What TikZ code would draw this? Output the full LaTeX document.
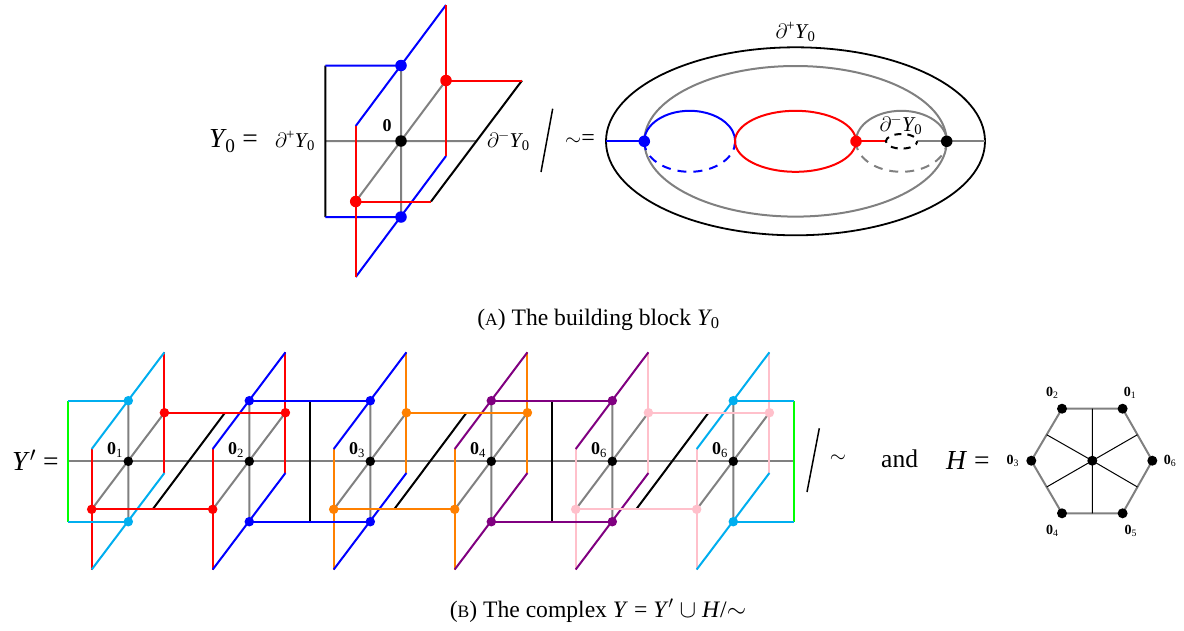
\documentclass[tikz,border=0pt]{standalone}
\usepackage{fontspec}
\usetikzlibrary{calc}
\setmainfont{Liberation Serif}
\newcommand{\fsz}[1]{\fontsize{#1}{#1}\selectfont}
\newcommand{\YzT}{\textit{Y}\kern-0.06em\textsubscript{0}}
\newcommand{\bzr}[1]{\textbf{0}\textsubscript{#1}}
\definecolor{mycyan}{RGB}{0,174,239}
\definecolor{myorange}{RGB}{255,128,0}
\definecolor{mypurple}{RGB}{128,0,128}
\definecolor{mypink}{RGB}{255,192,203}
\definecolor{mygreen}{RGB}{0,255,0}
\tikzset{
  edgeline/.style={line width=2pt,line join=miter,line cap=butt},
  thinblack/.style={line width=1pt,black},
  dotbig/.style={circle,fill=#1,inner sep=0pt,minimum size=11.5pt},
  dotsmall/.style={circle,fill=#1,inner sep=0pt,minimum size=9.5pt},
  dothex/.style={circle,fill=#1,inner sep=0pt,minimum size=10pt},
  lab/.style={inner sep=0pt,text=black},
}
\begin{document}
\begin{tikzpicture}[x=1pt,y=-1pt]
\useasboundingbox (0,0) rectangle (1184,630);
% ---------- Part A, left
\coordinate (ac) at (401,141);
\coordinate (aul) at (325.3,65.5); \coordinate (all) at (325.3,217);
\coordinate (aml) at (325.3,141); \coordinate (amr) at (477,141);
\coordinate (abt) at (401,65.5); \coordinate (abb) at (401,217);
\coordinate (art) at (446,80.5); \coordinate (arb) at (355.7,201.5);
\coordinate (artr) at (522,80.5); \coordinate (arbr) at (431,201.5);
\coordinate (ap1) at (446,5); \coordinate (ap2) at (355.7,126);
\coordinate (ap3) at (446,156); \coordinate (ap4) at (355.7,277);
\draw[edgeline,gray] (aml)--(amr) (abt)--(abb) (art)--(arb);
\draw[edgeline,black] (aul)--(all) (artr)--(arbr);
\draw[edgeline,blue] (aul)--(abt) (all)--(abb) (ap1)--(ap2) (ap3)--(ap4);
\draw[edgeline,red] (ap1)--(ap3) (ap2)--(ap4) (art)--(artr) (arb)--(arbr);
\node[dotbig=black] (adc) at (ac) {};
\node[dotbig=blue] (ad1) at (abt) {};
\node[dotbig=blue] (ad2) at (abb) {};
\node[dotbig=red] (ad3) at (art) {};
\node[dotbig=red] (ad4) at (arb) {};
\node[lab,font=\fsz{18}] (al0) at (387,126) {\textbf{0}};
\node[lab,font=\fsz{27.5},anchor=west] (alY) at (209,141) {\YzT\ =};
\node[lab,font=\fsz{21},anchor=west] (alp) at (275,141) {$\partial$\kern-0.05em\textsuperscript{+}\YzT};
\node[lab,font=\fsz{21},anchor=west] (alm) at (487,141) {$\partial$\kern-0.05em\textsuperscript{$-$}\YzT};
\coordinate (as1) at (552.7,108.7); \coordinate (as2) at (541,172);
\draw[line width=1.5pt,black] (as1)--(as2);
\node[lab,font=\fsz{24},anchor=west] (aeq) at (565,140) {{\fsz{21}$\sim$}=};
% ---------- Part A, right
\coordinate (ec) at (795.5,141.3);
\draw[line width=1.8pt,black] (ec) ellipse [x radius=189.5,y radius=94];
\draw[edgeline,gray] (ec) ellipse [x radius=151.2,y radius=75.3];
\draw[edgeline,blue] (644.2,141.3) arc[start angle=180,end angle=370,x radius=45.5,y radius=30.5];
\draw[edgeline,blue,dashed,dash pattern=on 9pt off 7pt] (644.2,141.3) arc[start angle=180,end angle=0,x radius=45.5,y radius=30.5];
\draw[edgeline,red] (ec) ++(-60.5,0) arc[start angle=180,end angle=-180,x radius=60.5,y radius=30.5];
\draw[edgeline,gray] (856,141.3) arc[start angle=180,end angle=360,x radius=45.4,y radius=30.5];
\draw[edgeline,gray,dashed,dash pattern=on 9pt off 7pt] (856,141.3) arc[start angle=180,end angle=0,x radius=45.4,y radius=30.5];
\coordinate (eo1) at (606,141.3); \coordinate (eb) at (644.3,141.3);
\coordinate (er) at (856,141.3); \coordinate (em1) at (886,141.3);
\coordinate (em2) at (917.3,141.3); \coordinate (ek) at (946.7,141.3);
\coordinate (eo2) at (985,141.3); \coordinate (em) at (901.7,141.3);
\draw[edgeline,blue] (eo1)--(eb);
\draw[edgeline,red] (er)--(em1);
\draw[edgeline,gray] (em2)--(eo2);
\draw[edgeline,black,dashed,dash pattern=on 7pt off 6pt,dash phase=3.5pt] (em2) arc[start angle=0,end angle=360,x radius=15.7,y radius=7.3];
\node[dotbig=blue] (ed1) at (eb) {};
\node[dotbig=red] (ed2) at (er) {};
\node[dotbig=black] (ed3) at (ek) {};
\node[lab,font=\fsz{21}] (elp) at (795.5,32) {$\partial$\kern-0.05em\textsuperscript{+}\YzT};
\node[lab,font=\fsz{21}] (elm) at (901,125) {$\partial$\kern-0.05em\textsuperscript{$-$}\YzT};
\node[lab,font=\fsz{23.6}] (cap1) at (598.5,319.5) {({\fsz{17.5}A}) The building block \YzT};
% ---------- Part B
\def\ty{400.7}\def\by{521.7}\def\my{461.3}
\coordinate (gl) at (68,\my); \coordinate (gr) at (793.7,\my);
\draw[edgeline,gray] (gl)--(gr);
\foreach \i/\cx/\cdia/\cver/\sb in {1/128.3/mycyan/red/1,2/249.3/blue/red/2,3/370.3/blue/myorange/3,4/491.3/mypurple/myorange/4,5/612.3/mypurple/mypink/6,6/733.3/mycyan/mypink/6}{
  \coordinate (c\i) at (\cx,\my);
  \coordinate (t\i) at (\cx,\ty);
  \coordinate (b\i) at (\cx,\by);
  \coordinate (rt\i) at (\cx+36.1,412.7);
  \coordinate (rb\i) at (\cx-36.6,509.3);
  \coordinate (p1\i) at (\cx+36.1,352.3);
  \coordinate (p2\i) at (\cx-36.6,449);
  \coordinate (p3\i) at (\cx+36.1,473);
  \coordinate (p4\i) at (\cx-36.6,569.5);
  \draw[edgeline,gray] (t\i)--(b\i) (rt\i)--(rb\i);
  \draw[edgeline,\cver] (p1\i)--(p3\i) (p2\i)--(p4\i);
  \draw[edgeline,\cdia] (p1\i)--(p2\i) (p3\i)--(p4\i);
  \node[lab,font=\fsz{18},anchor=west] (l\i) at (\cx-21.5,\my-11) {\bzr{\sb}};
}
% horizontal sheets
\coordinate (ltop) at (68,\ty); \coordinate (lbot) at (68,\by);
\coordinate (rtop) at (793.7,\ty); \coordinate (rbot) at (793.7,\by);
\draw[edgeline,mygreen] (ltop)--(lbot) (rtop)--(rbot);
\draw[edgeline,mycyan] (ltop)--(t1) (lbot)--(b1) (t6)--(rtop) (b6)--(rbot);
% black connectors
\foreach \a/\b/\cx in {1/2/188.8,3/4/430.3,5/6/672.3}{
  \coordinate (d1\a) at (\cx+36.2,412.7);
  \coordinate (d2\a) at (\cx-36.1,509.3);
  \draw[edgeline,black,line width=2pt] (d1\a)--(d2\a);
}
\foreach \a/\cx in {2/310,4/552}{
  \coordinate (v1\a) at (\cx,\ty);
  \coordinate (v2\a) at (\cx,\by);
  \draw[edgeline,black,line width=2pt] (v1\a)--(v2\a);
}
\draw[edgeline,red] (rt1)--(rt2) (rb1)--(rb2);
\draw[edgeline,myorange] (rt3)--(rt4) (rb3)--(rb4);
\draw[edgeline,mypink] (rt5)--(rt6) (rb5)--(rb6);
\draw[edgeline,blue] (t2)--(t3) (b2)--(b3);
\draw[edgeline,mypurple] (t4)--(t5) (b4)--(b5);
\foreach \i/\cdia/\cver in {1/mycyan/red,2/blue/red,3/blue/myorange,4/mypurple/myorange,5/mypurple/mypink,6/mycyan/mypink}{
  \node[dotsmall=black] (dc\i) at (c\i) {};
  \node[dotsmall=\cdia] (dt\i) at (t\i) {};
  \node[dotsmall=\cdia] (db\i) at (b\i) {};
  \node[dotsmall=\cver] (drt\i) at (rt\i) {};
  \node[dotsmall=\cver] (drb\i) at (rb\i) {};
}
\node[lab,font=\fsz{27.5},anchor=west] (lY) at (12,460) {\textit{Y}$'$ =};
\coordinate (bs1) at (819.3,428.3); \coordinate (bs2) at (807,492);
\draw[line width=1.5pt,black] (bs1)--(bs2);
\node[lab,font=\fsz{21}] (bsim) at (838,459) {$\sim$};
\node[lab,font=\fsz{25.5},anchor=west] (band) at (881,459) {and};
\node[lab,font=\fsz{27.5},anchor=west] (bH) at (946,460) {\textit{H} =};
% ---------- Hexagon
\coordinate (hc) at (1092.3,460.7);
\coordinate (h1) at (1122.6,408.7); \coordinate (h2) at (1062,408.7);
\coordinate (h3) at (1031.3,460.7); \coordinate (h4) at (1062,513.3);
\coordinate (h5) at (1122.6,513.3); \coordinate (h6) at (1152.3,460.7);
\draw[edgeline,gray] (h1)--(h2)--(h3)--(h4)--(h5)--(h6)--cycle;
\draw[thinblack] (hc)--($(h1)!0.5!(h2)$) (hc)--($(h2)!0.5!(h3)$) (hc)--($(h3)!0.5!(h4)$)
  (hc)--($(h4)!0.5!(h5)$) (hc)--($(h5)!0.5!(h6)$) (hc)--($(h6)!0.5!(h1)$);
\foreach \i in {1,...,6}{\node[dothex=black] (hd\i) at (h\i) {};}
\node[dothex=black] (hdc) at (hc) {};
\node[lab,font=\fsz{14}] (hl1) at (1130,392.7) {\bzr{1}};
\node[lab,font=\fsz{14}] (hl2) at (1052.3,392.7) {\bzr{2}};
\node[lab,font=\fsz{14}] (hl3) at (1012.7,461) {\bzr{3}};
\node[lab,font=\fsz{14}] (hl4) at (1052.3,530.7) {\bzr{4}};
\node[lab,font=\fsz{14}] (hl5) at (1130.7,530.7) {\bzr{5}};
\node[lab,font=\fsz{14}] (hl6) at (1170,461) {\bzr{6}};
\node[lab,font=\fsz{23.6}] (cap2) at (598,611) {({\fsz{17.5}B}) The complex \textit{Y} = \textit{Y}$'$ $\cup$ \textit{H}/$\sim$};
\end{tikzpicture}
\end{document}
